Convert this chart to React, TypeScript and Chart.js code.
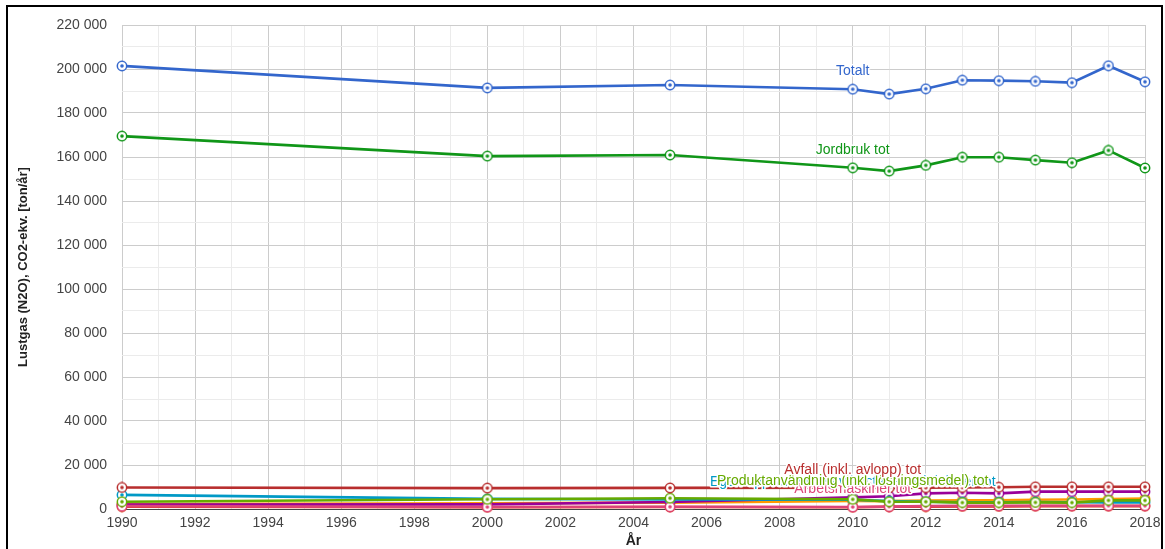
import React, { useEffect, useRef } from "react";
import { Chart, registerables } from "chart.js";

Chart.register(...registerables);

const years = [1990, 2000, 2005, 2010, 2011, 2012, 2013, 2014, 2015, 2016, 2017, 2018];

const totalt = [201400, 191400, 192700, 190800, 188600, 191000, 194900, 194700, 194400, 193800, 201500, 194200];
const industri = [1100, 800, 900, 800, 1000, 1100, 1200, 1200, 1300, 1300, 1300, 1300];
const transporter = [2300, 2600, 2900, 3700, 3600, 3800, 3900, 3900, 4200, 4300, 4500, 4700];
const jordbruk = [169500, 160400, 160900, 155100, 153600, 156200, 159900, 159900, 158600, 157400, 163000, 155000];
const elFjarrvarme = [2000, 2100, 3200, 5300, 5800, 7100, 7400, 7100, 7900, 7900, 7900, 7900];
const egenUppvarmning = [6400, 4600, 4300, 4200, 3600, 3300, 3100, 3100, 3200, 3100, 3000, 3000];
const arbetsmaskiner = [1300, 900, 1000, 900, 1100, 1300, 1400, 1400, 1500, 1500, 1500, 1500];
const produktanvandning = [3300, 4400, 4900, 4400, 3300, 3300, 2900, 2900, 3000, 2900, 3900, 3900];
const avfall = [9800, 9500, 9600, 9700, 9600, 9700, 9800, 9900, 10100, 10100, 10100, 10100];

const seriesNames = [
  "Totalt",
  "Industri (energi + processer) tot",
  "Inrikes transporter tot",
  "Jordbruk tot",
  "El och fjärrvärme tot",
  "Egen uppvärmning av bostäder och lokaler tot",
  "Arbetsmaskiner tot",
  "Produktanvändning (inkl. lösningsmedel) tot",
  "Avfall (inkl. avlopp) tot",
];
const seriesValues = [totalt, industri, transporter, jordbruk, elFjarrvarme, egenUppvarmning, arbetsmaskiner, produktanvandning, avfall];
const seriesColors = ["#3366cc", "#dc3912", "#ff9900", "#109618", "#990099", "#0099c6", "#dd4477", "#66aa00", "#b82e2e"];
const labeledSeries = [5, 6, 7, 8, 3, 0];
const labelYear = 2010;

const FONT = 'Arial, "Liberation Sans", sans-serif';

function makeMarker(color: string): HTMLCanvasElement {
  const c = document.createElement("canvas");
  c.width = 12;
  c.height = 12;
  const g = c.getContext("2d")!;
  g.beginPath();
  g.arc(6, 6, 4.7, 0, Math.PI * 2);
  g.fillStyle = "#ffffff";
  g.fill();
  g.lineWidth = 1.5;
  g.strokeStyle = color;
  g.stroke();
  g.beginPath();
  g.arc(6, 6, 1.8, 0, Math.PI * 2);
  g.fillStyle = color;
  g.fill();
  return c;
}

function formatNum(v: number): string {
  return String(Math.round(v)).replace(/\B(?=(\d{3})+(?!\d))/g, " ");
}

const labelPlugin = {
  id: "seriesLabels",
  afterDatasetsDraw(chart: any) {
    const ctx = chart.ctx;
    const idx = years.indexOf(labelYear);
    ctx.save();
    ctx.font = `14px ${FONT}`;
    ctx.textAlign = "center";
    ctx.textBaseline = "middle";
    ctx.lineJoin = "round";
    labeledSeries.forEach((si) => {
      const meta = chart.getDatasetMeta(si);
      const pt = meta.data[idx];
      if (!pt) return;
      const x = pt.x;
      const y = pt.y - 18;
      ctx.lineWidth = 3;
      ctx.strokeStyle = "#ffffff";
      ctx.strokeText(seriesNames[si], x, y);
      ctx.fillStyle = seriesColors[si];
      ctx.fillText(seriesNames[si], x, y);
    });
    ctx.restore();
  },
};

export default function App() {
  const ref = useRef<HTMLCanvasElement | null>(null);

  useEffect(() => {
    if (!ref.current) return;
    const n = seriesValues.length;
    const datasets = seriesValues.map((vals, i) => ({
      label: seriesNames[i],
      data: years.map((yr, j) => ({ x: yr, y: vals[j] })),
      borderColor: seriesColors[i],
      backgroundColor: seriesColors[i],
      borderWidth: 2.6,
      tension: 0,
      clip: false as any,
      order: i === 0 ? 0 : n - i,
      pointStyle: makeMarker(seriesColors[i]) as any,
      pointRadius: 5,
    }));
    const chart = new Chart(ref.current, {
      type: "line",
      data: { datasets },
      plugins: [labelPlugin],
      options: {
        animation: false,
        responsive: false,
        maintainAspectRatio: false,
        layout: { autoPadding: false, padding: { top: 18, right: 16, bottom: 6, left: 0 } },
        plugins: {
          legend: { display: false },
          tooltip: { enabled: false },
        },
        scales: {
          x: {
            type: "linear",
            min: 1990,
            max: 2018,
            afterFit: (s: any) => {
              s.height = 44;
              s.paddingLeft = 0;
              s.paddingRight = 0;
            },
            ticks: {
              stepSize: 1,
              autoSkip: false,
              maxRotation: 0,
              padding: 6,
              color: "#444",
              font: { family: FONT, size: 14 },
              callback: (v: any) => (Number(v) % 2 === 0 ? String(v) : ""),
            },
            grid: {
              drawTicks: false,
              color: (c: any) => (c.tick && Number(c.tick.value) % 2 === 0 ? "#cccccc" : "#ebebeb"),
            },
            border: { display: true, color: "#444", width: 1 },
            title: {
              display: true,
              text: "År",
              color: "#222",
              font: { family: FONT, size: 14, weight: "bold" },
              padding: { top: 0, bottom: 3 },
            },
          },
          y: {
            type: "linear",
            min: 0,
            max: 220000,
            afterFit: (s: any) => {
              s.width = 114;
              s.paddingTop = 0;
              s.paddingBottom = 0;
            },
            ticks: {
              stepSize: 10000,
              autoSkip: false,
              padding: 15,
              color: "#444",
              font: { family: FONT, size: 14 },
              callback: (v: any) => (Number(v) % 20000 === 0 ? formatNum(Number(v)) : ""),
            },
            grid: {
              drawTicks: false,
              color: (c: any) => {
                const v = c.tick ? Number(c.tick.value) : 0;
                if (v === 0) return "#444";
                return v % 20000 === 0 ? "#cccccc" : "#ebebeb";
              },
            },
            border: { display: false },
            title: {
              display: true,
              text: "Lustgas (N2O), CO2-ekv. [ton/år]",
              color: "#222",
              font: { family: FONT, size: 13, weight: "bold" },
              padding: { top: 8, bottom: 0 },
            },
          },
        },
      },
    });
    return () => chart.destroy();
  }, []);

  return (
    <div
      style={{
        position: "absolute",
        left: 6,
        top: 5,
        width: 1157,
        height: 556,
        border: "2px solid #000",
        boxSizing: "border-box",
        background: "#fff",
      }}
    >
      <canvas ref={ref} width={1153} height={552} style={{ display: "block", width: 1153, height: 552 }} />
    </div>
  );
}
